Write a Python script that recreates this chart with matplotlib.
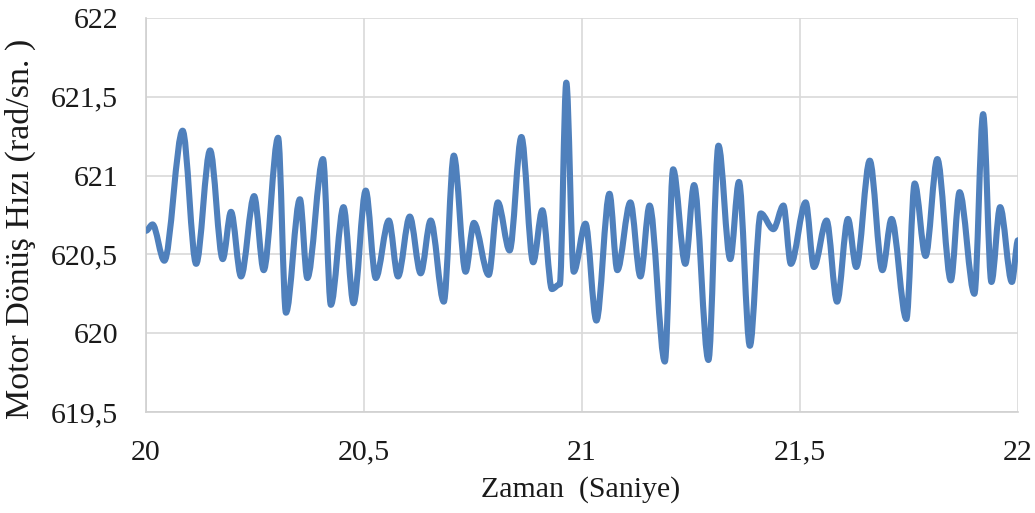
import matplotlib

matplotlib.use("Agg")

import matplotlib.pyplot as plt  # noqa: E402
import numpy as np  # noqa: E402
from matplotlib.patches import PathPatch  # noqa: E402
from matplotlib.path import Path  # noqa: E402


# turning points of the speed signal (time in s, speed in rad/s)
time_s = [
    20.000, 20.015, 20.042, 20.084, 20.115, 20.147, 20.176, 20.195, 20.218,
    20.248, 20.270, 20.303, 20.321, 20.353, 20.370, 20.406, 20.424, 20.453,
    20.476, 20.504, 20.527, 20.557, 20.578, 20.605, 20.630, 20.653, 20.683,
    20.706, 20.733, 20.752, 20.786, 20.807, 20.834, 20.861, 20.888, 20.909,
    20.931, 20.949, 20.964, 20.981, 21.008, 21.033, 21.063, 21.081, 21.111,
    21.134, 21.155, 21.190, 21.209, 21.237, 21.257, 21.290, 21.313, 21.340,
    21.360, 21.385, 21.410, 21.439, 21.462, 21.479, 21.513, 21.532, 21.561,
    21.585, 21.610, 21.629, 21.660, 21.689, 21.710, 21.744, 21.763, 21.788,
    21.815, 21.846, 21.866, 21.900, 21.920, 21.939, 21.959, 21.986, 22.000,
]
speed = [
    620.65, 620.69, 620.46, 621.285, 620.44, 621.16, 620.47, 620.77, 620.36,
    620.87, 620.40, 621.24, 620.13, 620.85, 620.35, 621.105, 620.18, 620.80,
    620.19, 620.905, 620.35, 620.715, 620.36, 620.74, 620.38, 620.715, 620.20,
    621.127, 620.39, 620.70, 620.37, 620.83, 620.525, 621.245, 620.45, 620.78,
    620.28, 620.31, 621.59, 620.39, 620.695, 620.08, 620.885, 620.40, 620.83,
    620.36, 620.81, 619.82, 621.04, 620.44, 620.94, 619.83, 621.19, 620.47,
    620.96, 619.92, 620.76, 620.66, 620.81, 620.44, 620.83, 620.42, 620.715,
    620.20, 620.725, 620.42, 621.095, 620.40, 620.725, 620.09, 620.95, 620.49,
    621.105, 620.335, 620.895, 620.25, 621.39, 620.325, 620.80, 620.325, 620.59,
]

x_ticks = [20, 20.5, 21, 21.5, 22]
x_tick_labels = ["20", "20,5", "21", "21,5", "22"]
y_ticks = [619.5, 620, 620.5, 621, 621.5, 622]
y_tick_labels = ["619,5", "620", "620,5", "621", "621,5", "622"]


def smooth_path(xs, ys):
    # cubic bezier through each point with flat tangents (turning points)
    verts = [(xs[0], ys[0])]
    codes = [Path.MOVETO]
    for x0, y0, x1, y1 in zip(xs[:-1], ys[:-1], xs[1:], ys[1:]):
        dx = (x1 - x0) / 3.0
        verts += [(x0 + dx, y0), (x1 - dx, y1), (x1, y1)]
        codes += [Path.CURVE4] * 3
    return Path(np.array(verts), codes)


plt.rcParams["font.family"] = ["Liberation Serif", "DejaVu Serif"]

fig = plt.figure(figsize=(10.35, 5.13), dpi=100)
ax = fig.add_axes([146 / 1035, 1 - 412 / 513, 872 / 1035, 394 / 513])

ax.add_patch(PathPatch(smooth_path(time_s, speed), facecolor="none",
                       edgecolor="#4F80BC", linewidth=4.4,
                       capstyle="round", joinstyle="round", zorder=3))

ax.set_xlim(20, 22)
ax.set_ylim(619.5, 622)
ax.set_xticks(x_ticks, x_tick_labels)
ax.set_yticks(y_ticks, y_tick_labels)
ax.tick_params(length=0, labelsize=21.5, colors="#1a1a1a")
ax.tick_params(axis="x", pad=20)
ax.tick_params(axis="y", pad=20)
ax.grid(True, color="#D9D9D9", linewidth=1.2)
for side in ("top", "right"):
    ax.spines[side].set_visible(False)
for side in ("left", "bottom"):
    ax.spines[side].set_color("#D0D0D0")
    ax.spines[side].set_linewidth(1.2)

ax.set_xlabel("Zaman  (Saniye)", fontsize=21.5, color="#1a1a1a")
ax.set_ylabel("Motor Dönüş Hızı (rad/sn. )", fontsize=24.5, color="#1a1a1a")
ax.xaxis.set_label_coords(0.498, -0.163)
ax.yaxis.set_label_coords(-0.126, 0.465)

fig.savefig("out.png", dpi=100)
